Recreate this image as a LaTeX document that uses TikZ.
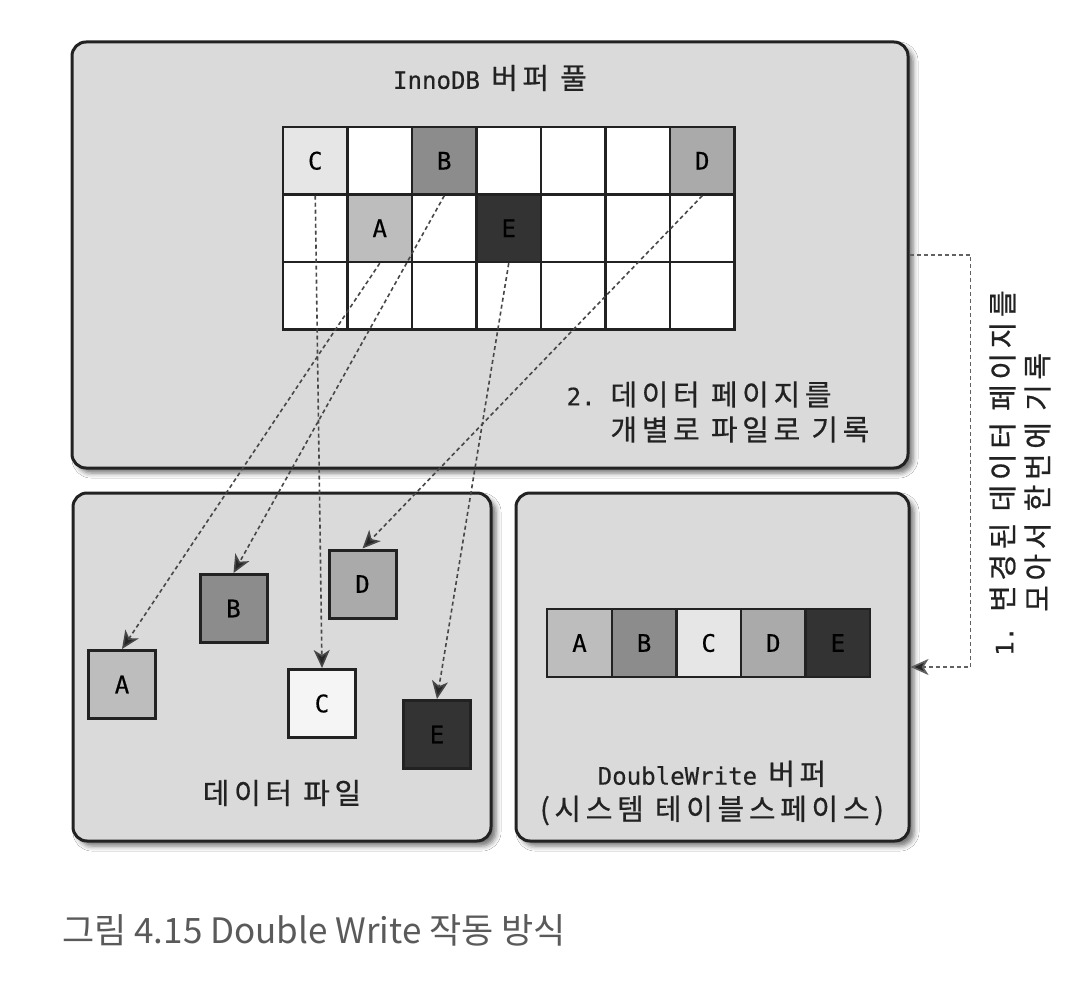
\documentclass[tikz,border=0pt]{standalone}
\usepackage{fontspec}
\setmonofont[Scale=0.83,FakeBold=0.4]{DejaVu Sans Mono}
\newfontfamily\kr[WordSpace=1.0,LetterSpace=16,FakeBold=0.6]{Noto Sans CJK KR}
\newfontfamily\capfont{Noto Sans CJK KR}
\usetikzlibrary{arrows.meta}
\usetikzlibrary{positioning}
\usetikzlibrary{shadows.blur}
\definecolor{panelgray}{HTML}{DADADA}
\definecolor{shadeA}{HTML}{BDBDBD}
\definecolor{shadeB}{HTML}{8C8C8C}
\definecolor{shadeC}{HTML}{E6E6E6}
\definecolor{shadeD}{HTML}{AAAAAA}
\definecolor{shadeE}{HTML}{333333}
\definecolor{inkgray}{HTML}{222222}
\definecolor{capgray}{HTML}{5A5A5A}
\tikzset{
    labeltext/.style={font=\fontsize{29}{35}\selectfont\kr, text=inkgray, inner sep=0pt},
}

\begin{document}
\begin{tikzpicture}[x=1pt,y=-1pt,
    panel/.style={draw=inkgray,line width=3pt,rounded corners=14pt,fill=panelgray,
        blur shadow={shadow xshift=5pt,shadow yshift=-5pt,shadow blur radius=5pt,shadow opacity=55}},
    bufcell/.style={draw=inkgray,line width=2.5pt,fill=white,minimum width=64.5pt,minimum height=67.5pt,
        inner sep=0pt,font=\fontsize{29}{35}\selectfont\ttfamily},
    dwcell/.style={bufcell,minimum width=64.6pt,minimum height=68pt},
    filepage/.style={draw=inkgray,line width=3pt,minimum width=67pt,minimum height=68pt,
        inner sep=0pt,font=\fontsize{29}{35}\selectfont\ttfamily},
    writeline/.style={-{Stealth[length=18pt,width=16pt,inset=5pt,fill=black!85]},
        dash pattern=on 4pt off 3pt,line width=1.6pt,draw=black!72},
    collect/.style={writeline,draw=black!62}]

    \path[use as bounding box,fill=white] (0,0) rectangle (1085,1000);

    \node[panel,minimum width=836pt,minimum height=426pt] (pool) at (490,255) {};
    \node[panel,minimum width=418pt,minimum height=348pt] (filepanel) at (282,667) {};
    \node[panel,minimum width=393pt,minimum height=348pt] (dwpanel) at (712.5,667) {};

    \node[labeltext] (pooltitle) at (490,78) {{\ttfamily InnoDB} 버퍼 풀};

    % buffer pool pages
    \foreach \r in {0,1,2}
        \foreach \c in {0,...,6}
            \node[bufcell] (g-\r-\c) at ({315.25+64.5*\c},{160.75+67.5*\r}) {};
    \foreach \name/\r/\c in {C/0/0,B/0/2,D/0/6,A/1/1,E/1/3}
        \node[bufcell,fill=shade\name] (buf\name) at (g-\r-\c) {\name};

    \node[labeltext,align=left] (note2) at (718,412)
        {{\ttfamily 2.} 데이터 페이지를\\\phantom{{\ttfamily 2.} }개별로 파일로 기록};

    % data file
    \node[filepage,fill=shadeA] (fileA) at (122,684.5) {A};
    \node[filepage,fill=shadeB] (fileB) at (233.5,608.5) {B};
    \node[filepage,fill=white!96!black] (fileC) at (322,703.5) {C};
    \node[filepage,fill=shadeD] (fileD) at (362.5,584) {D};
    \node[filepage,fill=shadeE] (fileE) at (437,734.5) {E};
    \node[labeltext] (filetitle) at (282,793) {데이터 파일};

    % doublewrite buffer
    \foreach \name [count=\i from 0] in {A,B,C,D,E}
        \node[dwcell,fill=shade\name] (dw\name) at ({579.5+64.6*\i},643) {\name};
    \node[labeltext,align=center] (dwtitle) at (712,793)
        {{\ttfamily DoubleWrite} 버퍼\\(시스템 테이블스페이스)};

    \foreach \name in {A,B,C,D,E}
        \draw[writeline] (buf\name.south) -- (file\name.north);

    \draw[collect] (pool.east) -- ++(61,0) |- (dwpanel.east);
    \node[labeltext,rotate=90,align=left] (note1) at (1020,473)
        {{\ttfamily 1.} 변경된 데이터 페이지를\\\phantom{{\ttfamily 1.} }모아서 한번에 기록};

    \node[anchor=west,inner sep=0pt,text=capgray,font=\fontsize{35}{42}\selectfont\capfont] (caption) at (62,930)
        {그림 4.15 Double Write 작동 방식};
\end{tikzpicture}
\end{document}
